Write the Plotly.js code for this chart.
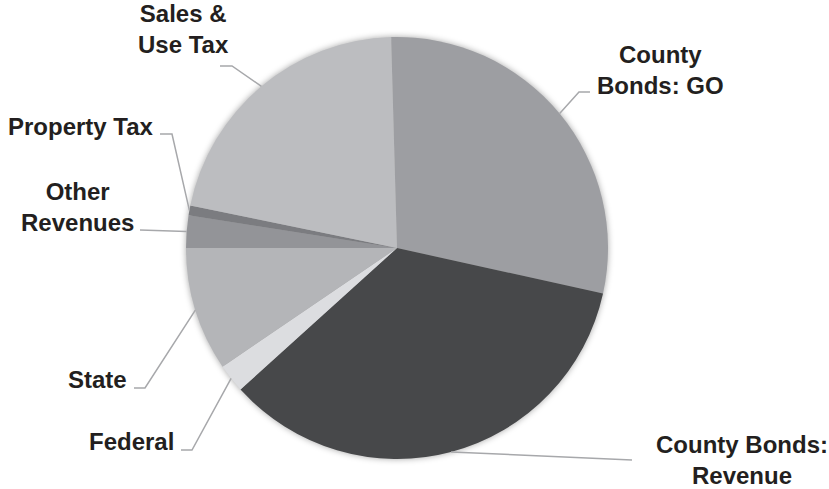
<!DOCTYPE html>
<html>
<head>
<meta charset="utf-8">
<script src="https://cdn.plot.ly/plotly-3.0.1.min.js"></script>
<style>
  html, body { margin: 0; padding: 0; background: #fff; }
  #chart { width: 829px; height: 489px; }
  .pielayer { filter: drop-shadow(0px 0px 3px rgba(0,0,0,0.35)); }
</style>
</head>
<body>
<div id="chart"></div>
<script>
// ---- data ----
const categories = ["County Bonds: GO", "County Bonds: Revenue", "Federal", "State", "Other Revenues", "Property Tax", "Sales & Use Tax"];
const labelTexts = ["County<br>Bonds: GO", "County Bonds:<br>Revenue", "Federal", "State", "Other<br>Revenues", "Property Tax", "Sales &<br>Use Tax"];
const shares = [28.9, 34.84, 2.19, 9.51, 2.48, 0.75, 21.32];
const sliceColors = ["#9d9ea2", "#47484a", "#dcdde0", "#b4b5b8", "#939498", "#7b7c80", "#bcbdc0"];

// ---- layout constants (pixels) ----
const W = 829, H = 489;
const CX = 397, CY = 248, R = 211;
const ROT = -1.6;
// label anchor: [x, y, xanchor]
const labelPos = [
  [660, 70, "center"],
  [742, 460, "center"],
  [176, 441, "right"],
  [129, 379, "right"],
  [77, 207, "center"],
  [156, 126, "right"],
  [183, 29, "center"]
];
// leader line points after the slice edge point
const leaderPts = [
  [[579, 92], [590, 92]],
  [[632, 460]],
  [[192, 450], [181, 450]],
  [[145, 388], [134, 388]],
  [[140, 230]],
  [[172, 134], [160, 134]],
  [[232, 66], [220, 66]]
];

const px = x => x / W;
const py = y => 1 - y / H;

const total = shares.reduce((a, b) => a + b, 0);
let cum = 0;
const shapes = [];
shares.forEach((v, i) => {
  const mid = ROT + (cum + v / 2) / total * 360;
  cum += v;
  const a = mid * Math.PI / 180;
  const ex = CX + R * Math.sin(a);
  const ey = CY - R * Math.cos(a);
  const pts = [[ex, ey]].concat(leaderPts[i]);
  let d = "";
  pts.forEach((p, k) => { d += (k === 0 ? "M" : " L") + px(p[0]).toFixed(5) + "," + py(p[1]).toFixed(5); });
  shapes.push({ type: "path", xref: "paper", yref: "paper", path: d, line: { color: "#a7a8ab", width: 1.5 } });
});

const annotations = labelTexts.map((t, i) => ({
  text: t, xref: "paper", yref: "paper",
  x: px(labelPos[i][0]), y: py(labelPos[i][1]),
  xanchor: labelPos[i][2], yanchor: "middle", align: "center",
  showarrow: false,
  font: { family: "Liberation Sans, Arial, sans-serif", size: 24, color: "#231f20", weight: "bold" }
}));

const trace = {
  type: "pie",
  labels: categories,
  values: shares,
  sort: false,
  direction: "clockwise",
  rotation: ROT,
  marker: { colors: sliceColors, line: { width: 0 } },
  textinfo: "none",
  hoverinfo: "label+percent",
  showlegend: false,
  domain: { x: [px(CX - R), px(CX + R)], y: [py(CY + R), py(CY - R)] }
};

Plotly.newPlot("chart", [trace], {
  width: W, height: H,
  margin: { l: 0, r: 0, t: 0, b: 0 },
  paper_bgcolor: "#ffffff",
  showlegend: false,
  annotations: annotations,
  shapes: shapes
}, { displayModeBar: false, staticPlot: true });
</script>
</body>
</html>
